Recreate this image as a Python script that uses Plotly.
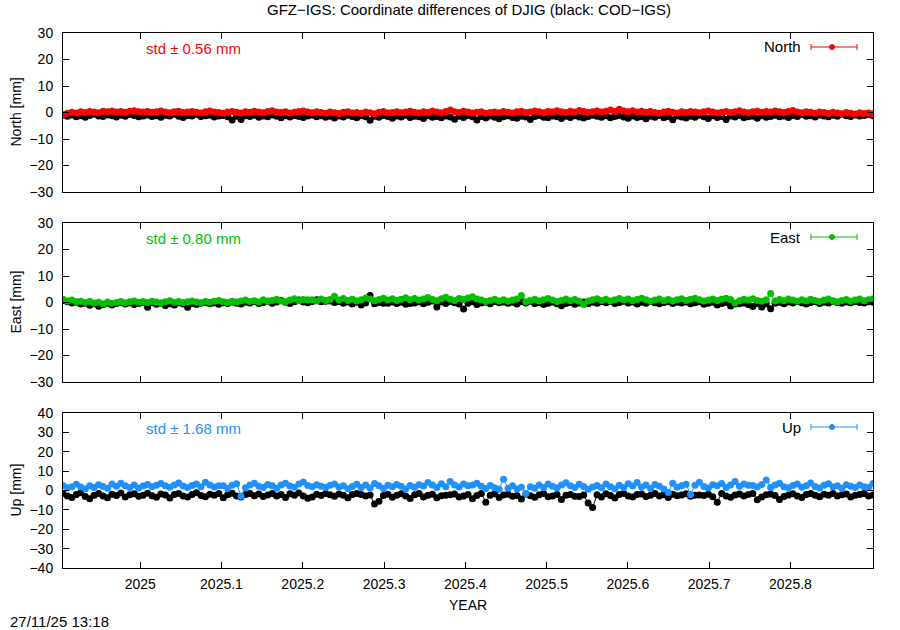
import numpy as np
import plotly.graph_objects as go

# ---------------- data (mm), one solution every 2 days ----------------
start_year = 2024.905
step_days = 2

north_gfz = [
    -0.8, -0.3, 0.1, -0.2, 0.3, 0.0, 0.4, 0.2, -0.1, 0.5, 0.3, 0.6, 0.2, 0.4, 0.1, 0.5, 0.7, 0.3, 0.2, 0.4,
    0.1, 0.3, 0.6, 0.2, -0.1, 0.3, 0.5, 0.0, 0.2, 0.4, 0.1, -0.2, 0.3, 0.6, 0.2, 0.0, -0.3, 0.2, 0.4, 0.1,
    -0.2, 0.3, 0.1, 0.5, 0.2, -0.1, 0.4, 0.7, 0.2, 0.0, 0.3, -0.2, 0.1, 0.4, 0.6, 0.2, -0.1, 0.3, 0.0, -0.3,
    0.2, -0.1, -0.4, 0.1, 0.3, -0.2, 0.0, -0.3, 0.2, -0.1, -0.5, 0.1, 0.4, -0.2, 0.0, 0.3, -0.1, 0.2, 0.5, 0.1,
    -0.2, 0.3, 0.0, 0.6, 0.2, -0.1, 0.4, 0.9, 0.3, 0.0, 0.5, 0.2, -0.2, 0.1, 0.3, -0.3, 0.0, 0.2, -0.1, 0.4,
    0.1, -0.2, 0.3, 0.5, 0.0, 0.2, 0.6, 0.3, -0.1, 0.4, 0.2, 0.7, 0.3, 0.0, 0.5, 0.2, 0.8, 0.4, 0.1, 0.3,
    0.6, 0.2, 0.5, 0.9, 0.4, 1.2, 0.6, 0.3, 0.7, 0.2, 0.5, 0.1, 0.4, 0.0, -0.3, 0.2, 0.5, 0.1, -0.2, 0.3,
    0.0, 0.4, 0.2, -0.1, 0.3, 0.6, 0.2, -0.2, 0.1, 0.4, 0.0, 0.3, 0.7, 0.2, -0.1, 0.3, 0.5, 0.1, 0.4, 0.2,
    0.6, 0.3, 0.0, 0.4, 0.8, 0.2, -0.1, 0.3, 0.1, -0.3, 0.2, 0.0, -0.4, 0.1, -0.2, -0.5, 0.0, -0.3, -0.6, -0.1,
    -0.4, -0.2, -0.5,
]
north_cod = [
    -1.0, -1.4, -0.9, -1.6, -1.2, -1.8, -1.1, -0.7, -1.3, -1.5, -0.9, -1.2, -1.7, -1.0, -1.4, -0.8, -1.1, -1.6, -1.3, -0.9,
    -1.5, -1.2, -1.8, -1.0, -1.3, -0.7, -1.4, -1.9, -1.1, -1.3, -0.8, -1.5, -1.2, -1.0, -1.7, -1.3, -1.1, -1.6, -2.8, -1.4,
    -2.6, -1.2, -1.5, -1.0, -1.8, -1.3, -1.6, -0.9, -1.4, -2.0, -1.2, -1.7, -1.1, -1.5, -1.9, -1.3, -1.0, -1.6, -1.2, -1.8,
    -1.4, -2.1, -1.3, -1.7, -1.0, -1.5, -2.0, -1.2, -1.6, -2.9, -1.4, -1.8, -1.1, -1.5, -2.2, -1.3, -1.7, -1.0, -1.9, -1.4,
    -1.6, -2.3, -1.2, -1.8, -1.5, -2.0, -1.3, -1.7, -2.5, -1.4, -1.9, -1.1, -1.6, -2.8, -1.5, -2.1, -1.3, -1.8, -2.4, -1.6,
    -1.2, -1.9, -2.2, -1.4, -1.7, -2.6, -1.5, -1.1, -1.8, -2.0, -1.3, -1.6, -2.3, -1.4, -1.9, -1.2, -1.7, -2.1, -1.5, -1.0,
    -1.4, -1.8, -1.2, -2.0, -1.5, -1.1, -1.7, -2.2, -1.3, -1.9, -1.6, -2.4, -1.4, -1.8, -1.1, -2.0, -1.5, -2.7, -1.3, -1.7,
    -2.1, -1.4, -1.8, -1.0, -1.6, -2.3, -1.2, -1.9, -1.5, -2.6, -1.3, -1.7, -1.1, -2.0, -1.6, -1.4, -2.2, -1.2, -1.8, -1.5,
    -1.0, -1.6, -1.3, -1.9, -1.1, -1.5, -0.8, -1.4, -1.2, -1.7, -0.9, -1.3, -1.6, -1.0, -1.4, -0.7, -1.2, -1.5, -0.9, -1.3,
    -1.1, -0.8, -1.2,
]
east_gfz = [
    1.2, 0.6, 0.9, 0.3, 0.5, 0.0, 0.4, -0.2, 0.1, -0.5, 0.2, -0.3, 0.0, 0.4, -0.1, 0.3, 0.6, 0.1, 0.4, 0.0,
    0.5, 0.2, -0.2, 0.3, 0.7, 0.1, 0.4, 0.0, 0.3, 0.6, 0.2, -0.1, 0.4, 0.1, 0.5, 0.8, 0.3, 0.0, 0.5, 0.2,
    0.6, 0.9, 0.4, 0.7, 0.2, 1.0, 0.5, 0.8, 1.2, 0.6, 0.3, 0.9, 1.4, 0.7, 1.1, 1.0, 1.0, 0.6, 1.3, 0.8,
    1.1, 2.4, 0.9, 1.5, 0.8, 1.2, 0.6, 1.0, 1.7, 1.3, 0.7, 1.1, 1.6, 0.9, 1.4, 0.8, 1.2, 1.8, 1.0, 1.5,
    0.9, 1.3, 1.9, 1.1, 0.7, 1.4, 2.0, 1.2, 0.8, 1.5, 1.1, 1.7, 2.2, 1.3, 0.9, 0.4, 0.8, 1.2, 0.6, 1.0,
    0.5, 0.9, 1.3, 2.6, 0.3, 0.8, 1.2, 0.6, 1.0, 1.5, 0.9, 0.4, 0.8, 1.3, 0.7, 1.1, 0.5, -0.8, 0.6, 1.0,
    1.4, 0.8, 1.2, 0.6, 1.0, 1.5, 0.9, 1.3, 0.7, 1.1, 1.6, 1.0, 0.5, 0.9, 1.3, 0.7, 1.1, 0.6, 1.0, 1.4,
    0.8, 1.2, 1.6, 1.0, 0.6, 0.9, 1.3, 0.8, 1.2, 1.6, 1.1, -0.2, 0.7, 1.2, 0.9, 1.4, 0.8, 0.5, 1.0, 3.4,
    0.6, 1.1, 0.7, 1.3, 0.9, 0.5, 1.0, 0.6, 1.2, 0.8, 0.4, 0.9, 1.3, 0.7, 0.3, 0.8, 1.1, 0.5, 0.9, 1.3,
    0.7, 1.0, 1.4,
]
east_cod = [
    0.8, 0.3, -0.2, 0.1, -0.6, -0.3, -1.0, -0.5, -1.4, -0.8, -0.3, -0.9, -0.4, 0.0, -0.6, -0.2, -0.8, -0.4, 0.1, -1.8,
    -0.1, -0.7, -0.3, -1.1, -0.5, -0.9, -0.2, -0.6, -1.8, -0.4, -0.8, -0.3, 0.0, -0.5, -0.2, -0.7, -0.1, -0.4, 0.2, -0.3,
    -0.6, 0.1, -0.2, 0.4, -0.4, 0.0, 0.5, -0.3, 0.2, 0.8, 0.1, -0.4, 0.3, 0.9, 0.2, -0.1, 0.4, 1.0, 0.3, 0.5,
    0.6, 0.0, 0.4, -0.3, 0.2, -0.6, 0.1, -0.9, -0.2, 2.6, -0.5, 0.0, -0.3, -0.3, 0.2, -0.4, 0.1, -0.7, -0.4, -0.2,
    0.3, -0.5, 0.1, 0.6, -1.7, 0.2, -0.4, 0.4, -0.1, -0.6, -2.5, -0.3, 0.3, -0.8, -0.2, 0.1, -0.5, 0.4, -0.1, 0.2,
    -0.3, 0.1, -0.6, 0.3, -0.2, 0.5, -0.4, 0.0, -0.8, -0.3, 0.2, -0.5, -1.2, -0.4, 0.0, -0.7, -0.2, 0.2, -0.5, 0.1,
    -0.3, 0.3, -0.1, 0.4, -0.4, 0.0, 0.5, -0.2, 0.2, -0.6, 0.1, -0.3, 0.4, -0.1, -0.5, 0.0, 0.3, -0.4, 0.1, -0.2,
    0.2, -0.5, -0.1, 0.3, -0.7, -0.3, 0.1, -0.9, -0.4, 0.0, -1.3, -0.6, -0.5, -0.2, -0.8, -1.5, -0.4, -1.7, -0.6, -2.4,
    -0.3, 0.1, -0.5, 0.2, -0.2, 0.4, -0.1, -0.6, 0.0, 0.3, -0.4, 0.1, -0.2, 0.5, 0.0, -0.3, 0.2, -0.1, 0.4, 0.0,
    -0.2, 0.3, 0.1,
]
up_gfz = [
    2.6, 1.4, 2.0, 3.2, 1.8, 0.9, 2.4, 1.5, 3.0, 2.1, 1.2, 3.4, 2.2, 3.8, 2.5, 1.6, 2.9, 1.3, 2.3, 3.1,
    1.9, 2.7, 3.6, 2.4, 1.7, 2.8, 3.9, 2.3, 1.5, 2.6, 3.3, 2.0, 4.2, 2.9, 1.8, 2.5, 2.4, 1.1, 2.7, 3.5,
    -3.0, 1.4, 2.8, 3.7, 2.2, 1.6, 3.1, 2.5, 1.2, 2.9, 3.8, 2.3, 1.7, 3.3, 4.4, 2.6, 1.9, 3.0, 2.2, 1.5,
    2.7, 3.4, 1.8, 2.5, 0.9, 2.1, 3.2, 1.6, 2.8, 1.3, 3.6, 2.4, 1.0, 2.7, 1.9, 3.1, 2.2, 0.8, 2.6, 1.7,
    3.0, 2.3, 4.1, 2.8, 1.5, 3.5, 2.0, 4.6, 2.9, 1.8, 3.3, 2.4, 2.9, 3.7, 2.2, 1.0, 2.6, 1.4, 0.6, 5.8,
    1.2, 2.5, 0.8, 1.7, -1.5, 2.0, 1.1, 2.8, 1.6, 3.4, 2.2, 1.3, 2.9, 4.0, 2.4, 1.5, 3.2, 2.1, 0.7, 1.8,
    2.6, 1.4, 3.3, 2.0, 0.9, 2.7, 1.6, 3.5, 2.3, 4.1, 1.8, 2.9, 1.2, 3.1, 2.2, 0.8, -1.0, 3.8, 1.7, 2.4,
    3.2, -2.0, 2.7, 4.3, 2.1, 1.3, 3.0, 2.4, 3.6, 1.6, 2.8, 4.6, 2.2, 3.4, 2.7, 2.6, 1.8, 3.1, 5.4, 1.5,
    2.9, 3.7, 2.0, 1.4, 2.6, 3.3, 1.7, 2.4, 3.9, 2.1, 1.3, 2.7, 3.5, 1.9, 2.5, 1.2, 3.0, 2.2, 1.6, 2.8,
    2.0, 1.5, 3.6,
]
up_cod = [
    -1.5, -2.8, -3.6, -2.0, -1.2, -3.1, -4.2, -2.4, -1.6, -2.9, -3.8, -1.9, -2.6, -1.3, -3.3, -2.2, -1.7, -3.0, -2.5, -1.4,
    -2.7, -3.5, -1.8, -2.3, -3.9, -2.1, -1.5, -2.8, -3.4, -2.0, -1.2, -2.6, -3.2, -1.9, -2.4, -1.6, -3.7, -2.2, -1.4, -2.9,
    -3.3, -2.0, -1.5, -2.7, -1.8, -3.1, -2.3, -1.6, -2.9, -2.1, -3.6, -1.7, -2.5, -1.3, -2.8, -4.0, -3.4, -1.9, -2.6, -1.5,
    -2.2, -3.0, -1.8, -2.5, -3.7, -2.1, -1.6, -2.0, -2.9, -2.3, -7.0, -5.5, -2.6, -1.9, -3.5, -2.4, -1.7, -2.8, -4.1, -2.2,
    -1.6, -3.3, -2.5, -1.9, -3.8, -2.7, -2.4, -2.2, -1.8, -3.4, -2.9, -2.0, -4.3, -2.6, -1.5, -6.0, -2.4, -1.7, -3.6, -2.3,
    -1.9, -3.0, -2.6, -4.4, -1.8, -2.7, -3.5, -2.2, -1.6, -3.2, -2.8, -2.0, -4.6, -2.5, -2.1, -3.0, -3.1, -2.3, -6.5, -8.8,
    -2.2, -3.3, -1.7, -2.6, -3.9, -2.1, -1.5, -2.8, -3.4, -2.0, -1.8, -3.1, -2.5, -1.6, -2.9, -2.2, -3.6, -1.9, -2.7, -2.3,
    -1.7, -3.0, -2.4, -2.3, -2.6, -1.9, -3.2, -6.0, -1.6, -2.8, -3.5, -2.3, -1.8, -2.9, -2.0, -1.5, -4.8, -3.3, -2.2, -1.8,
    -2.6, -4.6, -3.1, -2.3, -1.7, -2.8, -3.6, -2.1, -1.5, -2.5, -3.2, -1.9, -2.4, -1.6, -2.9, -2.2, -1.8, -3.4, -2.5, -2.0,
    -1.6, -2.8, -2.3,
]

panel_names = ["North", "East", "Up"]
panel_colors = ["#ff0000", "#00c000", "#1e90ff"]
std_texts = ["std \u00b1 0.56 mm", "std \u00b1 0.80 mm", "std \u00b1 1.68 mm"]
x_tickvals = [2025.0, 2025.1, 2025.2, 2025.3, 2025.4, 2025.5, 2025.6, 2025.7, 2025.8]
x_ticktext = ["2025", "2025.1", "2025.2", "2025.3", "2025.4", "2025.5", "2025.6", "2025.7", "2025.8"]
y_ranges = [(-30, 30), (-30, 30), (-40, 40)]

title_text = "GFZ\u2212IGS: Coordinate differences of DJIG (black: COD\u2212IGS)"
stamp_text = "27/11/25 13:18"

# ---------------- layout geometry (pixels) ----------------
W, H = 900, 630
L, R, T, B = 63, 873, 33, 568
panel_px = [(33, 192), (223, 382), (413, 568)]  # (top, bottom)
FS = 14     # tick labels / axis titles
FS2 = 15    # title and in-plot texts


def px2x(px):
    return (px - L) / (R - L)


def px2y(py):
    return (B - py) / (B - T)


n = len(north_gfz)
years = start_year + np.arange(n) * step_days / 365.25
xr = [start_year, float(years[-1])]

series = [(north_cod, north_gfz), (east_cod, east_gfz), (up_cod, up_gfz)]
FONT = "Liberation Sans, Arial, sans-serif"

fig = go.Figure()
for k, (cod, gfz) in enumerate(series):
    xa = "x" if k == 0 else f"x{k+1}"
    ya = "y" if k == 0 else f"y{k+1}"
    fig.add_trace(go.Scatter(x=years, y=cod, mode="lines+markers", xaxis=xa, yaxis=ya,
                             line=dict(color="black", width=1),
                             marker=dict(color="black", size=7), showlegend=False, hoverinfo="skip"))
    fig.add_trace(go.Scatter(x=years, y=gfz, mode="lines+markers", xaxis=xa, yaxis=ya,
                             line=dict(color=panel_colors[k], width=1),
                             marker=dict(color=panel_colors[k], size=7), showlegend=False, hoverinfo="skip"))

layout = dict(
    width=W, height=H,
    margin=dict(l=L, r=W - R, t=T, b=H - B),
    paper_bgcolor="white", plot_bgcolor="white",
    font=dict(family=FONT, size=FS, color="black"),
    showlegend=False,
)

annotations = []
shapes = []
for k in range(3):
    top, bot = panel_px[k]
    dom = [px2y(bot), px2y(top)]
    xkey = "xaxis" if k == 0 else f"xaxis{k+1}"
    ykey = "yaxis" if k == 0 else f"yaxis{k+1}"
    ya = "y" if k == 0 else f"y{k+1}"
    xa = "x" if k == 0 else f"x{k+1}"
    lo, hi = y_ranges[k]
    yt = list(range(lo, hi + 1, 10))
    layout[xkey] = dict(domain=[0, 1], anchor=ya, range=xr, tickvals=x_tickvals, ticktext=x_ticktext,
                        showticklabels=(k == 2), ticks="inside", ticklen=6, tickcolor="black",
                        mirror="allticks", showline=True, linecolor="black", linewidth=1,
                        showgrid=False, zeroline=False, tickfont=dict(size=FS), ticklabelstandoff=3)
    layout[ykey] = dict(domain=dom, anchor=xa, range=[lo, hi], tickvals=yt,
                        ticktext=[str(v).replace("-", "\u2212") for v in yt],
                        ticks="inside", ticklen=6, tickcolor="black",
                        mirror="allticks", showline=True, linecolor="black", linewidth=1,
                        showgrid=False, zeroline=False, tickfont=dict(size=FS), ticklabelstandoff=6)
    # y-axis title
    annotations.append(dict(text=f"{panel_names[k]} [mm]", x=px2x(15), y=px2y((top + bot) / 2),
                            xref="paper", yref="paper", textangle=-90, showarrow=False,
                            xanchor="center", yanchor="middle", font=dict(size=FS)))
    # std label
    ly = top + 15
    annotations.append(dict(text=std_texts[k], x=px2x(144), y=px2y(ly), xref="paper", yref="paper",
                            showarrow=False, xanchor="left", yanchor="middle",
                            font=dict(size=FS2, color=panel_colors[k])))
    # legend key
    annotations.append(dict(text=panel_names[k], x=px2x(803), y=px2y(ly - 1), xref="paper", yref="paper",
                            showarrow=False, xanchor="right", yanchor="middle", font=dict(size=FS2)))
    c = panel_colors[k]
    yl = px2y(ly - 1)
    shapes.append(dict(type="line", xref="paper", yref="paper", x0=px2x(811), x1=px2x(857), y0=yl, y1=yl,
                       line=dict(color=c, width=1)))
    for cx in (811, 857):
        shapes.append(dict(type="line", xref="paper", yref="paper", x0=px2x(cx), x1=px2x(cx),
                           y0=px2y(ly - 4), y1=px2y(ly + 2), line=dict(color=c, width=1)))
    shapes.append(dict(type="circle", xref="paper", yref="paper", x0=px2x(829.5), x1=px2x(834.5),
                       y0=px2y(ly + 1.5), y1=px2y(ly - 3.5), fillcolor=c, line=dict(color=c, width=1)))

annotations.append(dict(text=title_text, x=px2x(469), y=px2y(10), xref="paper", yref="paper",
                        showarrow=False, xanchor="center", yanchor="middle", font=dict(size=FS2)))
annotations.append(dict(text="YEAR", x=px2x(468), y=px2y(605), xref="paper", yref="paper",
                        showarrow=False, xanchor="center", yanchor="middle", font=dict(size=FS)))
annotations.append(dict(text=stamp_text, x=px2x(8), y=px2y(621), xref="paper", yref="paper",
                        showarrow=False, xanchor="left", yanchor="middle", font=dict(size=FS2)))

layout["annotations"] = annotations
layout["shapes"] = shapes
fig.update_layout(**layout)
fig.write_html("out.html", config={"displayModeBar": False},
               post_script="document.body.style.margin='0';document.body.style.padding='0';")
